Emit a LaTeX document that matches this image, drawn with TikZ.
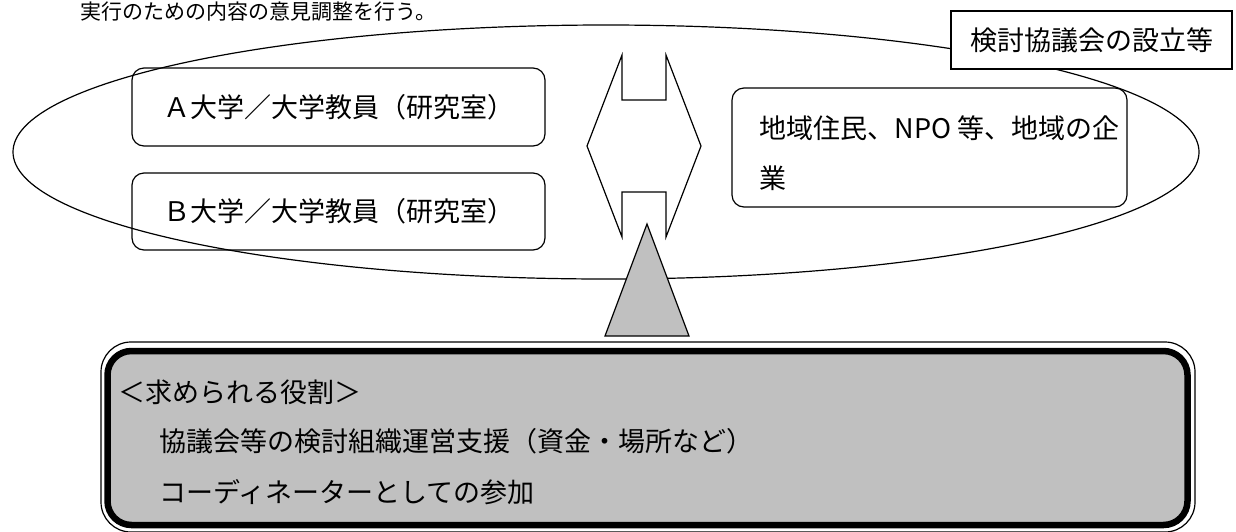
\documentclass[tikz,border=0pt]{standalone}
\usepackage{fontspec}
\setmainfont{Noto Sans CJK JP}
\usetikzlibrary{shapes.geometric}
\definecolor{boxgray}{RGB}{192,192,192}
\begin{document}
\begin{tikzpicture}[x=1pt,y=-1pt,line width=1.2pt,
  jtext/.style={font=\fontsize{27}{50}\selectfont},
  roundbox/.style={draw,rounded corners=12pt,inner sep=0pt,jtext},
  plainbox/.style={draw,fill=white,inner sep=0pt,jtext},
  linetext/.style={anchor=west,inner sep=0pt,jtext}]
\useasboundingbox (0,0) rectangle (1236,531);
\clip (0,0) rectangle (1236,531);

% heading line at the top
\node[anchor=base west,inner sep=0pt,font=\fontsize{21}{25}\selectfont] (intro) at (80,19) {実行のための内容の意見調整を行う。};

% council ellipse
\node[draw,ellipse,inner sep=0pt,minimum width=1186pt,minimum height=254pt] (council) at (606,152) {};

% member boxes
\node[roundbox,minimum width=413pt,minimum height=78pt] (boxA) at (338.5,107) {Ａ大学／大学教員（研究室）};
\node[roundbox,minimum width=413pt,minimum height=77pt] (boxB) at (338.5,211.5) {Ｂ大学／大学教員（研究室）};
\node[roundbox,minimum width=395pt,minimum height=119pt] (boxC) at (929.5,147.5) {};
\node[linetext] (boxCl1) at (759,128) {地域住民、NPO 等、地域の企};
\node[linetext] (boxCl2) at (759,178) {業};

% double arrow shape
\draw (622,55) -- (622,100) -- (666,100) -- (666,55) -- (701,146) -- (666,237)
  -- (666,192) -- (622,192) -- (622,237) -- (587,146) -- cycle;

% pointer triangle
\draw[fill=boxgray] (647,224) -- (689,336) -- (605,336) -- cycle;

% label box
\node[plainbox,minimum width=281pt,minimum height=58pt] (label) at (1091.5,40) {検討協議会の設立等};

% role box
\node[draw,rounded corners=30pt,inner sep=0pt,minimum width=1094pt,minimum height=190pt] (roleouter) at (648,437) {};
\node[draw,line width=6.5pt,fill=boxgray,rounded corners=24pt,inner sep=0pt,minimum width=1080pt,minimum height=174pt] (rolebox) at (647.5,438) {};

\node[linetext] (role1) at (118,392) {＜求められる役割＞};
\node[linetext] (role2) at (159,441) {協議会等の検討組織運営支援（資金・場所など）};
\node[linetext] (role3) at (159,492) {コーディネーターとしての参加};
\end{tikzpicture}
\end{document}
